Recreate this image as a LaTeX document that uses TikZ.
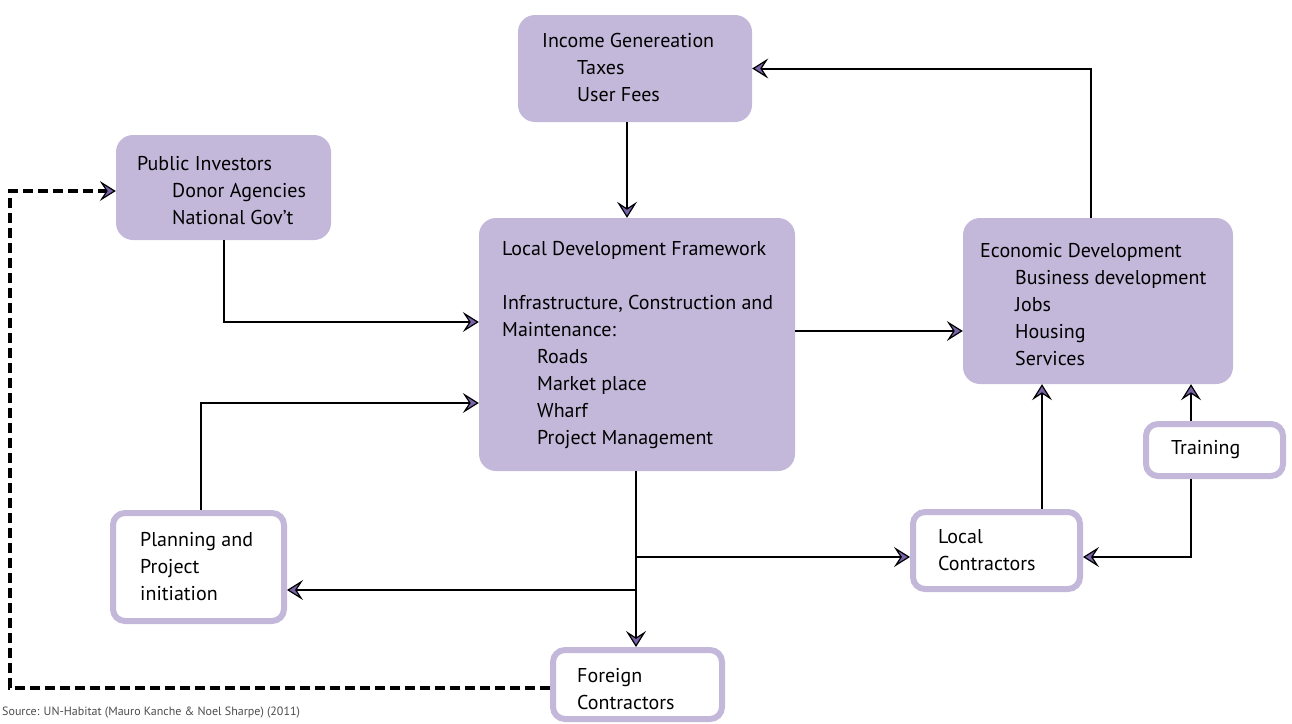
\documentclass[tikz,border=0pt]{standalone}
\usepackage{fontspec}
\setmainfont{PT Sans}
\usetikzlibrary{arrows.meta}
\definecolor{boxfill}{HTML}{C3B8DA}
\definecolor{arrfill}{HTML}{7A64A8}
\tikzset{
  fbox/.style={draw=none, fill=boxfill, rounded corners=17pt, inner sep=0pt},
  obox/.style={draw=boxfill, fill=white, line width=6pt, rounded corners=12pt, inner sep=0pt},
  txt/.style={inner sep=0pt, anchor=west, align=left, font=\fontsize{20}{27}\selectfont},
  arr/.style={line width=2pt, -{Stealth[length=16pt, width=20pt, inset=6.5pt, fill=arrfill, line width=1.2pt]}},
  dasharr/.style={line width=4.5pt, dash pattern=on 10pt off 5pt, -{Stealth[length=16pt, width=20pt, inset=6.5pt, fill=arrfill, line width=1.2pt]}},
}
\newcommand{\ind}{\hspace*{35pt}}
\begin{document}
\begin{tikzpicture}[x=1pt, y=-1pt]
\useasboundingbox (0,0) rectangle (1292,723);
% boxes
\node[fbox, minimum width=234pt, minimum height=107pt] (inc) at (635,68.5) {};
\node[fbox, minimum width=215pt, minimum height=105pt] (pub) at (223.5,187.5) {};
\node[fbox, minimum width=316pt, minimum height=253pt] (ldf) at (637,344.5) {};
\node[fbox, minimum width=270pt, minimum height=166pt] (eco) at (1098,301) {};
\node[obox, minimum width=137pt, minimum height=52pt] (trn) at (1214.5,450) {};
\node[obox, minimum width=167pt, minimum height=77pt] (loc) at (996.5,550.5) {};
\node[obox, minimum width=171pt, minimum height=108pt] (pln) at (198.5,567) {};
\node[obox, minimum width=169pt, minimum height=69pt] (for) at (637.5,684.5) {};
% texts
\node[txt] (incT) at (542,67) {Income Genereation\\\ind Taxes\\\ind User Fees};
\node[txt] (pubT) at (137,190.5) {Public Investors\\\ind Donor Agencies\\\ind National Gov’t};
\node[txt] (ldfT) at (502,345.5) {Local Development Framework\\[27pt]Infrastructure, Construction and\\Maintenance:\\\ind Roads\\\ind Market place\\\ind Wharf\\\ind Project Management};
\node[txt] (ecoT) at (980,305) {Economic Development\\\ind Business development\\\ind Jobs\\\ind Housing\\\ind Services};
\node[txt] (trnT) at (1171,450) {Training};
\node[txt] (locT) at (938,550.5) {Local\\Contractors};
\node[txt] (plnT) at (140,566.5) {Planning and\\Project\\initiation};
\node[txt] (forT) at (577,689.5) {Foreign\\Contractors};
\node[inner sep=0pt, anchor=west, font=\fontsize{12}{14}\selectfont, text=black!70] (src) at (2,713) {Source: UN-Habitat (Mauro Kanche \& Noel Sharpe) (2011)};
% connectors
\draw[arr] (eco.north -| 1091,0) |- (inc.east);
\draw[arr] (inc.south -| 627,0) -- (ldf.north -| 627,0);
\draw[arr] (pub.south) |- (ldf.west |- 0,322);
\draw[arr] (ldf.east |- 0,331) -- (eco.west |- 0,331);
\draw[arr] (pln.north -| 201,0) |- (ldf.west |- 0,403);
\coordinate (j1) at (636,557);
\coordinate (j2) at (636,590);
\draw[arr] (ldf.south -| 636,0) -- (for.north -| 636,0);
\draw[arr] (j1) -- (loc.west |- j1);
\draw[arr] (j2) -- (pln.east |- j2);
\draw[arr] (loc.north -| 1042,0) -- (eco.south -| 1042,0);
\draw[arr] (trn.north -| 1191,0) -- (eco.south -| 1191,0);
\draw[arr] (trn.south -| 1191,0) |- (loc.east |- 0,557);
\coordinate (dc) at (10,191);
\draw[dasharr] (for.west |- 0,688) -| (dc) -- (pub.west |- dc);
\end{tikzpicture}
\end{document}
